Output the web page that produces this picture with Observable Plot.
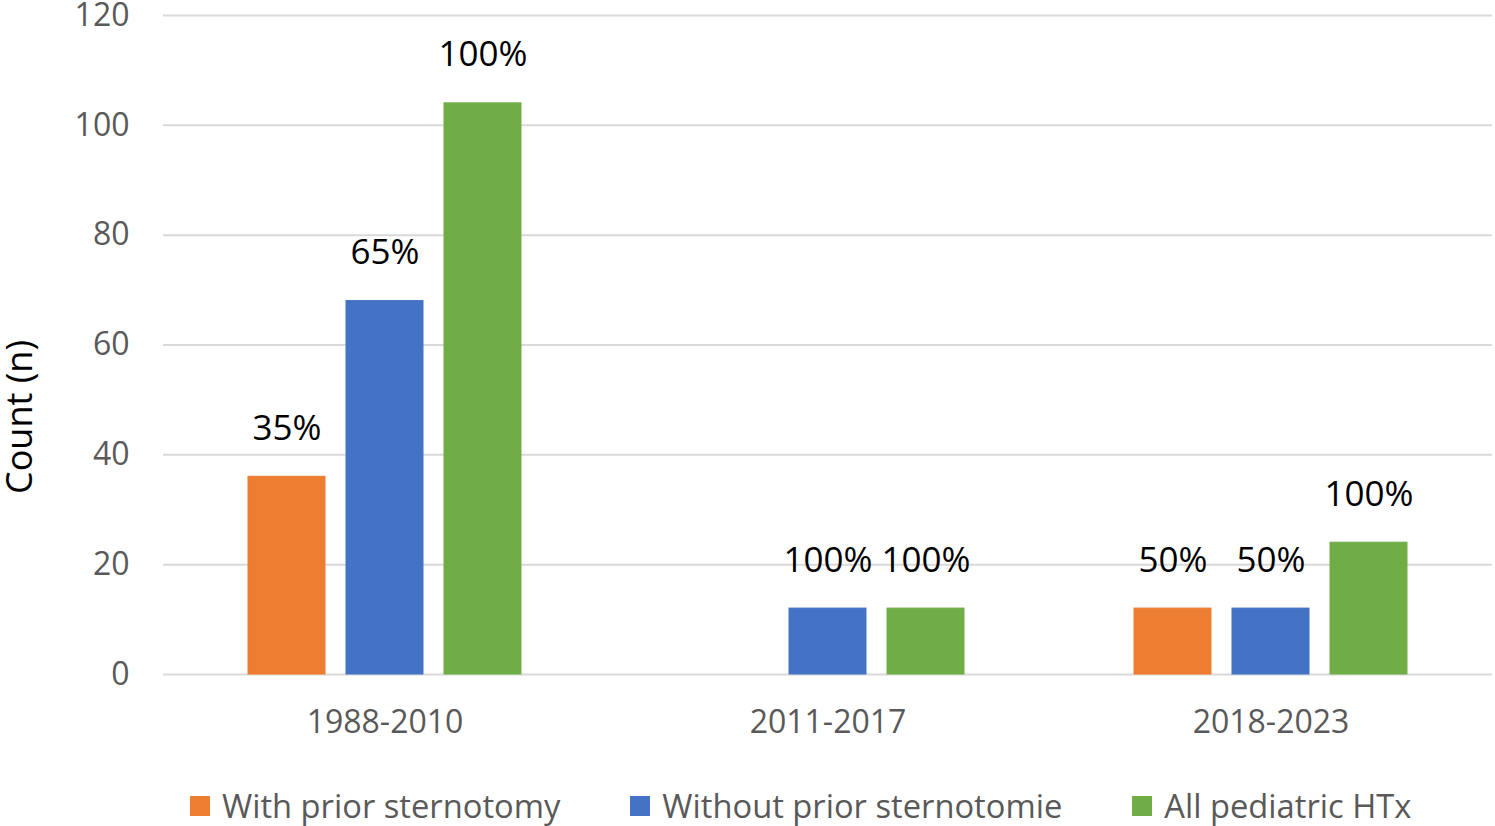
<!DOCTYPE html>
<html>
<head>
<meta charset="utf-8">
<script src="https://cdn.jsdelivr.net/npm/d3@7"></script>
<script src="https://cdn.jsdelivr.net/npm/@observablehq/plot@0.6"></script>
<style>
  html, body { margin: 0; padding: 0; background: #fff; }
  #wrap { position: relative; width: 1495px; height: 826px; font-family: "Open Sans", sans-serif; }
  #chart svg { overflow: visible; }
  #ylabel { position: absolute; left: 1px; top: 340px; writing-mode: vertical-rl; transform: rotate(180deg);
            font-size: 36px; line-height: 36px; color: #000; white-space: nowrap; }
  #legend { position: absolute; left: 190px; top: 783px; display: flex; align-items: center; gap: 70px;
            font-size: 32.7px; color: #595959; white-space: nowrap; }
  .item { display: flex; align-items: center; gap: 12px; }
  .sw { width: 20px; height: 20px; display: inline-block; }
</style>
</head>
<body>
<div id="wrap">
  <div id="chart"></div>
  <div id="ylabel">Count (n)</div>
  <div id="legend"></div>
</div>
<script>
const periods = ["1988-2010", "2011-2017", "2018-2023"];
const seriesNames = ["With prior sternotomy", "Without prior sternotomie", "All pediatric HTx"];
const seriesColors = ["#ED7D31", "#4472C4", "#70AD47"];
const withPrior = [36, 0, 12];
const withoutPrior = [68, 12, 12];
const allHTx = [104, 12, 24];
const withPriorPct = ["35%", "", "50%"];
const withoutPriorPct = ["65%", "100%", "50%"];
const allHTxPct = ["100%", "100%", "100%"];
const yTicks = [0, 20, 40, 60, 80, 100, 120];

const valueLists = [withPrior, withoutPrior, allHTx];
const pctLists = [withPriorPct, withoutPriorPct, allHTxPct];
const rows = [];
periods.forEach((p, i) => {
  seriesNames.forEach((s, j) => {
    rows.push({period: p, series: s, value: valueLists[j][i], label: pctLists[j][i]});
  });
});

const chart = Plot.plot({
  width: 1495,
  height: 760,
  marginLeft: 162,
  marginRight: 3,
  marginTop: 15,
  marginBottom: 86,
  style: {fontFamily: "Open Sans, sans-serif", background: "#fff", overflow: "visible"},
  fx: {domain: periods, padding: 0},
  x: {domain: seriesNames, axis: null, paddingInner: 0.217, paddingOuter: 0.863},
  y: {domain: [0, 120]},
  color: {domain: seriesNames, range: seriesColors},
  marks: [
    Plot.ruleY(yTicks, {stroke: "#d9d9d9", strokeWidth: 2}),
    Plot.barY(rows, {fx: "period", x: "series", y: "value", fill: "series", stroke: "series", strokeWidth: 1}),
    Plot.text(rows.filter(d => d.label !== ""), {fx: "period", x: "series", y: "value", text: "label",
      lineAnchor: "bottom", dy: -37, fontSize: 35, fill: "#000"}),
    Plot.axisY({ticks: yTicks, tickSize: 0, tickPadding: 34, fontSize: 32, fill: "#595959", label: null}),
    Plot.axisFx({anchor: "bottom", tickSize: 0, tickPadding: 36, fontSize: 32, fill: "#595959", label: null})
  ]
});
document.getElementById("chart").appendChild(chart);

const legend = document.getElementById("legend");
seriesNames.forEach((s, j) => {
  const item = document.createElement("div");
  item.className = "item";
  const sw = document.createElement("span");
  sw.className = "sw";
  sw.style.background = seriesColors[j];
  const t = document.createElement("span");
  t.textContent = s;
  item.appendChild(sw);
  item.appendChild(t);
  legend.appendChild(item);
});
</script>
</body>
</html>
